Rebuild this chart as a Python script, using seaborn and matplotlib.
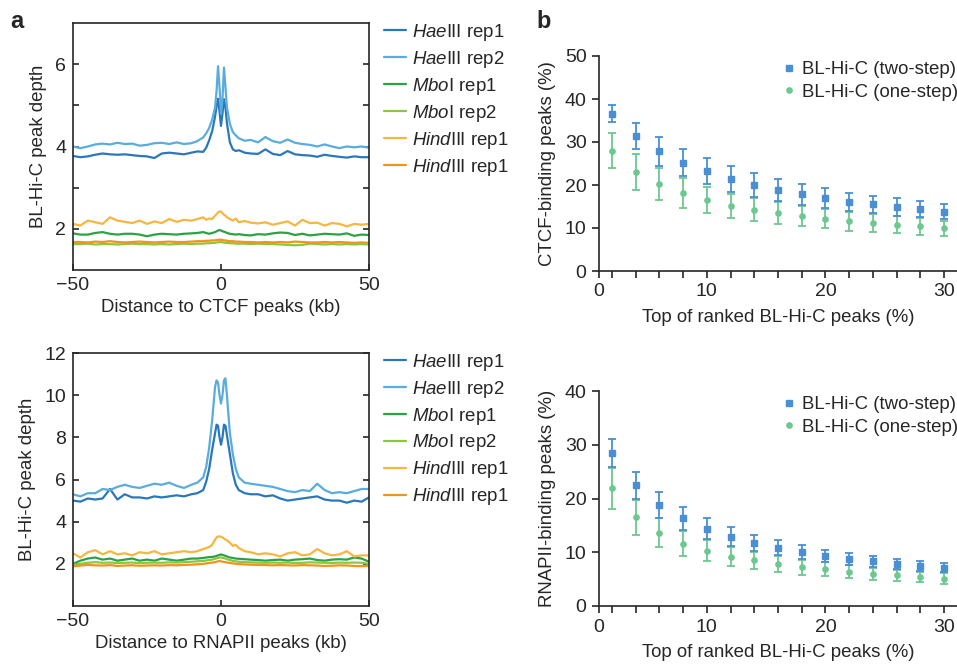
import numpy as np
import matplotlib
matplotlib.use("Agg")
import matplotlib.pyplot as plt
from matplotlib.lines import Line2D
import seaborn as sns

# ------------------------
# data : left panels (aggregate profiles around peaks)
# ------------------------
x_kb = [-50, -47.5, -45, -42.5, -40, -37.5, -35, -32.5, -30, -27.5,
        -25, -22.5, -20, -17.5, -15, -12.5, -10, -8, -6, -5,
        -4, -3, -2, -1.5, -1, -0.5, 0, 0.5, 1, 1.5,
        2, 3, 4, 5, 6, 8, 10, 12.5, 15, 17.5,
        20, 22.5, 25, 27.5, 30, 32.5, 35, 37.5, 40, 42.5,
        45, 47.5, 50]

samples = ["$\\it{Hae}$III rep1", "$\\it{Hae}$III rep2", "$\\it{Mbo}$I rep1",
           "$\\it{Mbo}$I rep2", "$\\it{Hind}$III rep1", "$\\it{Hind}$III rep1"]

ctcf_hae1 = [3.77, 3.74, 3.76, 3.80, 3.83, 3.81, 3.80, 3.81, 3.79, 3.77,
             3.76, 3.72, 3.83, 3.85, 3.83, 3.81, 3.85, 3.88, 3.87, 3.97,
             4.15, 4.37, 4.73, 4.97, 5.16, 4.85, 4.50, 4.80, 5.15, 4.95,
             4.57, 4.10, 3.93, 3.89, 3.91, 3.85, 3.83, 3.82, 3.93, 3.82,
             3.79, 3.89, 3.81, 3.79, 3.78, 3.75, 3.80, 3.77, 3.75, 3.73,
             3.76, 3.74, 3.74]
ctcf_hae2 = [4.00, 3.96, 4.00, 4.05, 4.07, 4.05, 4.09, 4.06, 4.07, 4.02,
             4.04, 4.08, 4.09, 4.06, 4.10, 4.06, 4.08, 4.13, 4.22, 4.32,
             4.45, 4.65, 4.95, 5.35, 5.95, 5.45, 4.80, 5.15, 5.92, 5.45,
             4.95, 4.55, 4.35, 4.27, 4.20, 4.14, 4.16, 4.10, 4.23, 4.13,
             4.09, 4.17, 4.09, 4.06, 4.04, 4.00, 4.05, 4.00, 3.96, 4.00,
             3.98, 4.00, 3.97]
ctcf_mbo1 = [1.89, 1.86, 1.86, 1.90, 1.92, 1.88, 1.86, 1.88, 1.88, 1.86,
             1.82, 1.86, 1.88, 1.87, 1.86, 1.88, 1.89, 1.90, 1.92, 1.90,
             1.88, 1.90, 1.92, 1.94, 1.96, 1.97, 1.96, 1.94, 1.93, 1.92,
             1.90, 1.88, 1.87, 1.86, 1.87, 1.85, 1.84, 1.87, 1.86, 1.89,
             1.91, 1.90, 1.85, 1.88, 1.84, 1.86, 1.88, 1.87, 1.86, 1.89,
             1.83, 1.86, 1.85]
ctcf_mbo2 = [1.63, 1.63, 1.64, 1.62, 1.63, 1.63, 1.62, 1.63, 1.64, 1.63,
             1.63, 1.62, 1.63, 1.62, 1.63, 1.64, 1.63, 1.64, 1.64, 1.65,
             1.65, 1.66, 1.66, 1.67, 1.67, 1.68, 1.68, 1.67, 1.67, 1.66,
             1.66, 1.65, 1.65, 1.64, 1.64, 1.64, 1.63, 1.64, 1.63, 1.63,
             1.62, 1.61, 1.60, 1.61, 1.64, 1.63, 1.62, 1.63, 1.62, 1.63,
             1.62, 1.63, 1.62]
ctcf_hind1 = [2.12, 2.08, 2.20, 2.16, 2.12, 2.28, 2.20, 2.17, 2.14, 2.20,
              2.12, 2.18, 2.14, 2.24, 2.17, 2.22, 2.20, 2.24, 2.28, 2.22,
              2.25, 2.24, 2.32, 2.36, 2.40, 2.42, 2.42, 2.38, 2.34, 2.32,
              2.28, 2.24, 2.20, 2.25, 2.16, 2.19, 2.15, 2.13, 2.16, 2.10,
              2.14, 2.18, 2.08, 2.22, 2.14, 2.15, 2.08, 2.14, 2.12, 2.06,
              2.12, 2.10, 2.12]
ctcf_hind2 = [1.68, 1.68, 1.67, 1.69, 1.68, 1.70, 1.68, 1.67, 1.68, 1.69,
              1.68, 1.67, 1.68, 1.69, 1.68, 1.68, 1.69, 1.70, 1.70, 1.71,
              1.71, 1.72, 1.72, 1.73, 1.73, 1.74, 1.73, 1.73, 1.72, 1.72,
              1.71, 1.70, 1.70, 1.69, 1.69, 1.68, 1.68, 1.67, 1.68, 1.67,
              1.68, 1.67, 1.69, 1.68, 1.67, 1.67, 1.68, 1.67, 1.68, 1.67,
              1.66, 1.67, 1.66]

pol2_hae1 = [5.00, 4.95, 5.10, 5.05, 5.10, 5.55, 5.05, 5.30, 5.15, 5.15,
             5.10, 5.20, 5.15, 5.20, 5.25, 5.20, 5.30, 5.35, 5.50, 5.90,
             6.50, 7.40, 8.20, 8.60, 8.55, 8.00, 7.65, 8.00, 8.60, 8.55,
             8.10, 7.20, 6.30, 5.75, 5.50, 5.35, 5.30, 5.30, 5.20, 5.25,
             5.10, 5.00, 5.05, 5.10, 5.15, 5.20, 5.05, 5.00, 5.00, 4.90,
             5.00, 4.95, 5.15]
pol2_hae2 = [5.30, 5.20, 5.35, 5.35, 5.55, 5.50, 5.65, 5.75, 5.65, 5.60,
             5.70, 5.80, 5.75, 5.85, 5.70, 5.60, 5.75, 5.85, 6.10, 6.60,
             7.50, 8.80, 10.40, 10.70, 10.60, 10.00, 9.60, 10.00, 10.70, 10.80,
             10.00, 8.20, 7.20, 6.50, 6.10, 5.85, 5.80, 5.75, 5.70, 5.65,
             5.55, 5.45, 5.40, 5.50, 5.45, 5.80, 5.50, 5.35, 5.40, 5.35,
             5.45, 5.55, 5.55]
pol2_mbo1 = [2.00, 2.15, 2.25, 2.30, 2.20, 2.25, 2.15, 2.20, 2.25, 2.15,
             2.20, 2.15, 2.25, 2.20, 2.15, 2.20, 2.25, 2.25, 2.28, 2.30,
             2.32, 2.33, 2.35, 2.38, 2.40, 2.42, 2.45, 2.42, 2.40, 2.38,
             2.35, 2.30, 2.28, 2.25, 2.24, 2.22, 2.20, 2.18, 2.15, 2.18,
             2.20, 2.15, 2.20, 2.22, 2.25, 2.18, 2.15, 2.20, 2.22, 2.20,
             2.30, 2.25, 2.10]
pol2_mbo2 = [1.95, 2.00, 2.05, 2.08, 2.05, 2.06, 2.04, 2.05, 2.06, 2.04,
             2.05, 2.06, 2.05, 2.07, 2.06, 2.08, 2.10, 2.12, 2.14, 2.16,
             2.18, 2.20, 2.24, 2.26, 2.28, 2.30, 2.30, 2.28, 2.27, 2.25,
             2.22, 2.18, 2.14, 2.12, 2.10, 2.08, 2.07, 2.06, 2.05, 2.06,
             2.05, 2.06, 2.04, 2.05, 2.07, 2.06, 2.05, 2.04, 2.06, 2.05,
             2.06, 2.05, 2.00]
pol2_hind1 = [2.50, 2.30, 2.55, 2.65, 2.45, 2.60, 2.45, 2.50, 2.40, 2.55,
              2.50, 2.60, 2.45, 2.50, 2.55, 2.60, 2.55, 2.60, 2.70, 2.75,
              2.80, 2.90, 3.15, 3.25, 3.30, 3.30, 3.28, 3.25, 3.20, 3.15,
              3.12, 3.00, 2.85, 2.90, 2.75, 2.60, 2.55, 2.45, 2.50, 2.45,
              2.35, 2.50, 2.55, 2.40, 2.45, 2.70, 2.50, 2.40, 2.45, 2.60,
              2.35, 2.40, 2.40]
pol2_hind2 = [1.88, 1.92, 1.95, 1.93, 1.92, 1.94, 1.90, 1.92, 1.93, 1.91,
              1.92, 1.93, 1.92, 1.94, 1.93, 1.95, 1.96, 1.98, 2.00, 2.02,
              2.04, 2.06, 2.08, 2.10, 2.12, 2.13, 2.12, 2.10, 2.09, 2.08,
              2.06, 2.04, 2.02, 2.00, 1.99, 1.97, 1.96, 1.95, 1.94, 1.93,
              1.94, 1.93, 1.92, 1.94, 1.93, 1.92, 1.90, 1.91, 1.93, 1.92,
              1.90, 1.89, 1.90]

# ------------------------
# data : right panels (fraction of BL-Hi-C peaks bound)
# ------------------------
top_pct = [2, 4, 6, 8, 10, 12, 14, 16, 18, 20, 22, 24, 26, 28, 30]

ctcf_two = [36.6, 31.4, 27.8, 25.2, 23.2, 21.4, 20.0, 18.9, 17.8, 16.9, 16.1, 15.5, 14.9, 14.4, 13.8]
ctcf_two_err = [2.0, 3.0, 3.3, 3.2, 3.0, 3.0, 2.7, 2.6, 2.5, 2.3, 2.1, 2.0, 2.0, 1.9, 1.8]
ctcf_one = [28.0, 23.0, 20.2, 18.1, 16.5, 15.2, 14.3, 13.5, 12.8, 12.2, 11.6, 11.2, 10.8, 10.4, 9.9]
ctcf_one_err = [4.0, 4.1, 3.8, 3.5, 3.0, 2.8, 2.7, 2.5, 2.4, 2.3, 2.2, 2.1, 2.0, 2.0, 1.8]

pol2_two = [28.4, 22.5, 18.8, 16.3, 14.4, 12.9, 11.8, 10.8, 10.1, 9.3, 8.8, 8.3, 7.8, 7.4, 7.1]
pol2_two_err = [2.6, 2.5, 2.4, 2.2, 2.0, 1.8, 1.5, 1.4, 1.3, 1.2, 1.1, 1.0, 1.0, 0.9, 0.85]
pol2_one = [21.9, 16.5, 13.6, 11.6, 10.3, 9.2, 8.5, 7.8, 7.2, 6.8, 6.4, 6.0, 5.7, 5.4, 5.1]
pol2_one_err = [3.8, 3.2, 2.7, 2.3, 2.0, 1.8, 1.6, 1.5, 1.35, 1.3, 1.2, 1.1, 1.05, 1.0, 0.95]

# ------------------------
# style
# ------------------------
sns.set_theme(style="ticks")
plt.rcParams["font.family"] = ["Liberation Sans", "DejaVu Sans"]
plt.rcParams["mathtext.fontset"] = "custom"
plt.rcParams["mathtext.rm"] = "Liberation Sans"
plt.rcParams["mathtext.it"] = "Liberation Sans:italic"
plt.rcParams["axes.linewidth"] = 1.2

FS_TICK = 14
FS_LAB = 13.4

line_colors = ["#2a78bb", "#5aacdc", "#2aa344", "#8dc641", "#f7b640", "#f29419"]
two_color = "#4a8fd3"
one_color = "#6cc88f"

fig = plt.figure(figsize=(9.57, 6.65), dpi=100)
W, H = 957, 665


def add_ax(x0, y0, x1, y1):
    return fig.add_axes([x0 / W, 1 - y1 / H, (x1 - x0) / W, (y1 - y0) / H])


def profile_panel(ax, series, xlabel, ylim, yticks, ylabels):
    for vals, lab, col in zip(series, samples, line_colors):
        sns.lineplot(x=x_kb, y=vals, ax=ax, color=col, lw=1.6, label=lab)
    ax.set_xlim(-50, 50)
    ax.set_ylim(*ylim)
    ax.set_xticks([-50, 0, 50])
    ax.set_yticks(yticks)
    ax.set_yticklabels(ylabels)
    ax.tick_params(direction="in", length=4, width=1.2, right=True,
                   labelsize=FS_TICK, pad=5)
    ax.set_xlabel(xlabel, fontsize=FS_LAB, labelpad=4)
    ax.set_ylabel("BL-Hi-C peak depth", fontsize=FS_LAB, labelpad=6)
    ax.legend(loc="upper left", bbox_to_anchor=(1.025, 1.035), frameon=False,
              fontsize=FS_LAB, handlelength=1.2, handletextpad=0.3,
              labelspacing=0.32, borderaxespad=0)


def rank_panel(ax, two, two_err, one, one_err, ymax, ylabel):
    ax.errorbar(top_pct, one, yerr=one_err, fmt="o", ms=3.8, color=one_color,
                ecolor=one_color, elinewidth=1.3, capsize=3, capthick=1.3)
    ax.errorbar(top_pct, two, yerr=two_err, fmt="s", ms=4, color=two_color,
                ecolor=two_color, elinewidth=1.3, capsize=3, capthick=1.3)
    ax.set_xlim(0.9, 31.1)
    ax.set_ylim(0, ymax)
    ax.set_xticks([0.9] + top_pct)
    ax.set_xticklabels(["0"] + [str(t) if t % 10 == 0 else "" for t in top_pct])
    ax.set_yticks(np.arange(0, ymax + 1, 10))
    ax.tick_params(direction="out", length=5, width=1.2, labelsize=FS_TICK, pad=4)
    sns.despine(ax=ax)
    ax.set_xlabel("Top of ranked BL-Hi-C peaks (%)", fontsize=FS_LAB, labelpad=6)
    ax.set_ylabel(ylabel, fontsize=FS_LAB, labelpad=6)
    handles = [Line2D([], [], ls="none", marker="s", ms=4, color=two_color),
               Line2D([], [], ls="none", marker="o", ms=3.8, color=one_color)]
    ax.legend(handles, ["BL-Hi-C (two-step)", "BL-Hi-C (one-step)"],
              loc="upper right", bbox_to_anchor=(1.025, 1.01), frameon=False,
              fontsize=FS_LAB, handlelength=0.6, handletextpad=0.4,
              labelspacing=0.3, borderaxespad=0)


ax1 = add_ax(73, 23, 369, 270)
profile_panel(ax1, [ctcf_hae1, ctcf_hae2, ctcf_mbo1, ctcf_mbo2, ctcf_hind1, ctcf_hind2],
              "Distance to CTCF peaks (kb)", (1, 7), [2, 3, 4, 5, 6],
              ["2", "", "4", "", "6"])

ax2 = add_ax(73, 353, 369, 606)
profile_panel(ax2, [pol2_hae1, pol2_hae2, pol2_mbo1, pol2_mbo2, pol2_hind1, pol2_hind2],
              "Distance to RNAPII peaks (kb)", (0, 12), [2, 4, 6, 8, 10, 12],
              ["2", "4", "6", "8", "10", "12"])

ax3 = add_ax(599, 56, 957, 271)
rank_panel(ax3, ctcf_two, ctcf_two_err, ctcf_one, ctcf_one_err, 50,
           "CTCF-binding peaks (%)")

ax4 = add_ax(599, 391, 957, 606)
rank_panel(ax4, pol2_two, pol2_two_err, pol2_one, pol2_one_err, 40,
           "RNAPII-binding peaks (%)")

fig.text(10 / W, 1 - 28 / H, "a", fontsize=17, fontweight="bold")
fig.text(536 / W, 1 - 28 / H, "b", fontsize=17, fontweight="bold")

fig.savefig("out.png", dpi=100)
